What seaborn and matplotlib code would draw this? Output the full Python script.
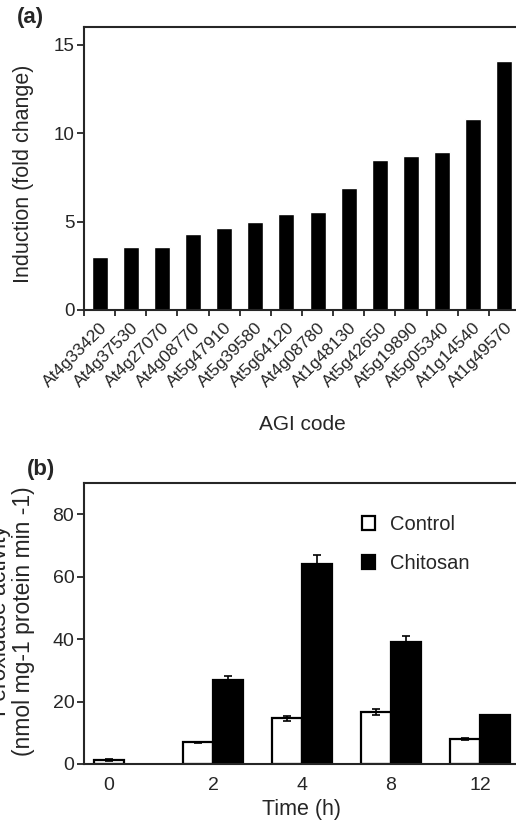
import matplotlib
matplotlib.use("Agg")
import matplotlib.pyplot as plt
import numpy as np
import pandas as pd
import seaborn as sns

# panel (a): induction of genes by chitosan
agi_codes = ["At4g33420", "At4g37530", "At4g27070", "At4g08770", "At5g47910",
             "At5g39580", "At5g64120", "At4g08780", "At1g48130", "At5g42650",
             "At5g19890", "At5g05340", "At1g14540", "At1g49570"]
fold_change = [3.0, 3.55, 3.55, 4.3, 4.65, 4.95, 5.4, 5.55, 6.9, 8.5,
               8.7, 8.95, 10.8, 14.1]

# panel (b): peroxidase activity over time
times = ["0", "2", "4", "8", "12"]
control_mean = [1.3, 6.9, 14.6, 16.6, 8.0]
control_err = [0.3, 0.3, 0.7, 1.0, 0.4]
chitosan_mean = [np.nan, 27.0, 64.0, 39.2, 15.6]
chitosan_err = [np.nan, 1.1, 3.0, 1.7, 0.2]

sns.set_style("ticks")
plt.rcParams["font.family"] = ["Liberation Sans", "DejaVu Sans"]
plt.rcParams["axes.linewidth"] = 1.5
plt.rcParams["xtick.major.width"] = 1.3
plt.rcParams["ytick.major.width"] = 1.3
plt.rcParams["xtick.minor.width"] = 1.3

W, H = 516, 824
fig = plt.figure(figsize=(W / 100, H / 100), dpi=100)


def px_axes(left, top, right, bottom):
    return fig.add_axes([left / W, 1 - bottom / H, (right - left) / W, (bottom - top) / H])


# ---- (a)
ax1 = px_axes(84, 27, 520, 310)
df_a = pd.DataFrame({"gene": agi_codes, "fold": fold_change})
sns.barplot(data=df_a, x="gene", y="fold", order=agi_codes, color="black",
            width=0.51, saturation=1, ax=ax1)
ax1.set_xlim(-0.5, len(agi_codes) - 0.5)
ax1.set_ylim(0, 16)
ax1.set_yticks([0, 5, 10, 15])
ax1.set_xticks(np.arange(-0.5, len(agi_codes) - 0.5, 1), minor=True)
ax1.tick_params(axis="x", which="major", length=0, pad=7)
ax1.tick_params(axis="x", which="minor", length=4, direction="out")
ax1.tick_params(axis="y", length=5, direction="out", labelsize=13.5, pad=2)
plt.setp(ax1.get_xticklabels(), rotation=45, ha="right", rotation_mode="anchor",
         fontsize=12.5)
ax1.set_xlabel("AGI code", fontsize=15, labelpad=18)
ax1.set_ylabel("Induction (fold change)", fontsize=15.5)
ax1.yaxis.set_label_coords(-0.115, 0.482)
ax1.spines["right"].set_visible(False)
fig.text(17 / W, 1 - 18 / H, "(a)", fontsize=16, fontweight="bold", va="center", ha="left")

# ---- (b)
ax2 = px_axes(84, 483, 520, 764)
df_b = pd.DataFrame({
    "time": times * 2,
    "activity": control_mean + chitosan_mean,
    "err": control_err + chitosan_err,
    "treatment": ["Control"] * len(times) + ["Chitosan"] * len(times),
}).dropna()
sns.barplot(data=df_b, x="time", y="activity", hue="treatment", order=times,
            hue_order=["Control", "Chitosan"],
            palette={"Control": "white", "Chitosan": "black"},
            edgecolor="black", linewidth=1.6, width=0.68, saturation=1,
            errorbar=None, ax=ax2)

# error bars and tick positions taken from the drawn bars
centers = {i: [] for i in range(len(times))}
for cont, sub in zip(ax2.containers, [df_b[df_b.treatment == "Control"],
                                      df_b[df_b.treatment == "Chitosan"]]):
    xs = [p.get_x() + p.get_width() / 2 for p in cont.patches]
    ax2.errorbar(xs, sub["activity"], yerr=sub["err"], fmt="none", ecolor="black",
                 elinewidth=1.2, capsize=3, capthick=1.2, zorder=3)
    for x in xs:
        centers[int(round(x))].append(x)
ax2.set_xticks([np.mean(centers[i]) for i in range(len(times))])
ax2.set_xticklabels(times)

ax2.set_xlim(-0.45, 4.45)
ax2.set_ylim(0, 90)
ax2.set_yticks([0, 20, 40, 60, 80])
ax2.tick_params(axis="x", length=0, pad=9, labelsize=14)
ax2.tick_params(axis="y", length=5, direction="out", labelsize=14, pad=2)
ax2.set_xlabel("Time (h)", fontsize=15.5, labelpad=4)
ax2.set_ylabel("Peroxidase activity\n(nmol mg-1 protein min -1)", fontsize=16.5,
               linespacing=1.05)
ax2.yaxis.set_label_coords(-0.112, 0.509)
ax2.spines["right"].set_visible(False)
ax2.legend(loc="upper left", bbox_to_anchor=(0.62, 0.915), frameon=False,
           fontsize=14.5, handlelength=0.65, handleheight=0.65,
           handletextpad=0.7, labelspacing=1.0, borderaxespad=0)
for h in ax2.get_legend().legend_handles:
    h.set_edgecolor("black")
    h.set_linewidth(1.6)
fig.text(27 / W, 1 - 470 / H, "(b)", fontsize=16, fontweight="bold", va="center", ha="left")

fig.savefig("out.png", dpi=100)
